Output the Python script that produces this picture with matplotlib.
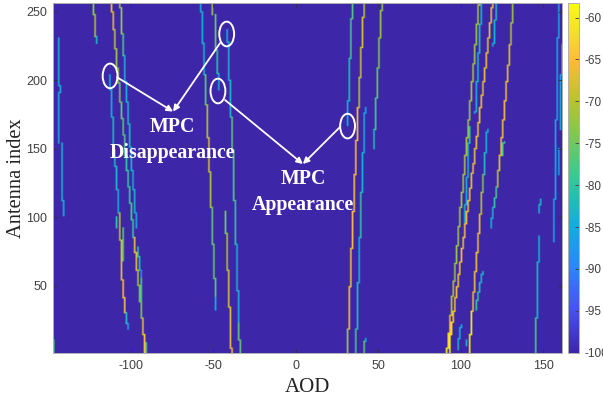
import numpy as np
import matplotlib
matplotlib.use('Agg')
import matplotlib.pyplot as plt
from matplotlib.colors import LinearSegmentedColormap
from matplotlib.patches import Ellipse

plt.rcParams['axes.unicode_minus'] = False

aod_axis = np.arange(-147, 162)
ant_axis = np.arange(1, 257)
noise_db = -100

# each path: AOD per step, antenna breakpoints (top to bottom), power per step
a_aod = [-144, -143, -144, -142, -141]
a_ant = [231, 196, 191, 154, 112, 101]
a_db = [-84, -85, -85, -84, -85]

a2_aod = [-147]
a2_ant = [10, 1]
a2_db = [-78]

b_aod = [-123, -122, -121]
b_ant = [256, 248, 232, 227]
b_db = [-73, -71, -83]

c_aod = [-112, -111, -110, -109, -108, -107, -106, -105, -104, -103, -102,
         -101, -100, -99, -98, -97, -96, -95, -94, -93, -92]
c_ant = [256, 250, 237, 223, 209, 198, 184, 172, 160, 145, 134, 122, 110, 98,
         85, 74, 61, 50, 38, 26, 14, 1]
c_db = [-66, -68, -70, -72, -74, -75, -76, -77, -78, -80, -79, -79, -78, -79,
        -66, -67, -70, -74, -74, -66, -64]

d_aod = [-113, -112, -111, -110, -109, -108, -107, -106, -105, -104, -103, -102]
d_ant = [204, 193, 173, 149, 137, 120, 103, 83, 54, 41, 30, 22, 18]
d_db = [-85, -85, -83, -83, -83, -85, -70, -68, -65, -64, -82, -86]

d2_aod = [-109, -105, -105, -107]
d2_ant = [100, 92, 68, 58]
d2_db = [-80, -76]

e_aod = [-107, -106, -105, -104, -103, -102, -101, -100, -99, -98, -97]
e_ant = [256, 253, 234, 218, 199, 184, 168, 151, 134, 120, 103, 92]
e_db = [-72, -72, -78, -84, -84, -83, -83, -84, -85, -84, -86]

e2_aod = [-96, -95, -94, -94]
e2_ant = [78, 71, 61, 55, 38]
e2_db = [-80, -82, -90, -78]

e3_aod = [-91]
e3_ant = [8, 1]
e3_db = [-78]

f_aod = [-58, -57, -56, -55, -54, -53, -52, -51, -50, -49, -49]
f_ant = [256, 250, 227, 204, 182, 158, 133, 107, 80, 55, 41, 32]
f_db = [-85, -84, -84, -76, -70, -68, -71, -76, -76, -77, -85]

g_aod = [-51, -49, -48, -47]
g_ant = [256, 248, 222, 205, 193]
g_db = [-72, -76, -80, -85]

h_aod = [-42, -41, -40, -39, -38, -37, -36, -35, -35, -34]
h_ant = [237, 228, 200, 173, 149, 112, 80, 46, 22, 10, 1]
h_db = [-85, -84, -83, -76, -77, -81, -84, -84, -76, -76]

i_aod = [-43, -42, -41, -40, -39]
i_ant = [104, 88, 61, 34, 4, 1]
i_db = [-75, -71, -68, -67, -66]

j_aod = [34, 33, 32, 31]
j_ant = [256, 245, 216, 185, 167]
j_db = [-77, -78, -82, -85]

k_aod = [41, 40, 39, 38, 37, 36, 35, 34, 33, 32, 31]
k_ant = [256, 246, 224, 202, 180, 156, 131, 104, 77, 49, 18, 1]
k_db = [-70, -68, -69, -70, -66, -65, -65, -65, -65, -65, -72]

l_aod = [52, 51, 50, 49, 48, 47]
l_ant = [256, 251, 231, 209, 187, 164, 150]
l_db = [-74, -72, -74, -76, -78, -82]

m_aod = [42, 41, 40, 39, 38, 37, 36]
m_ant = [180, 176, 147, 118, 85, 52, 18, 1]
m_db = [-86, -85, -84, -80, -84, -83, -78]

m2_aod = [42, 41]
m2_ant = [11, 9, 1]
m2_db = [-84, -76]

r_aod = [112, 111, 110, 109, 108]
r_ant = [256, 241, 220, 199, 177, 176]
r_db = [-84, -82, -83, -84, -86]

s_aod = [121, 120, 119]
s_ant = [256, 244, 227, 225]
s_db = [-82, -84, -86]

t_aod = [105, 104, 103, 102]
t_ant = [166, 154, 129, 109, 94]
t_db = [-80, -84, -85, -84]

n_aod = [111, 110, 109, 108, 107, 106, 105, 104, 103, 102, 101, 100, 99, 98,
         97, 96, 95, 94, 93, 92, 91]
n_ant = [256, 255, 241, 226, 212, 199, 185, 171, 158, 145, 131, 118, 107, 93,
         79, 66, 53, 42, 28, 15, 4, 1]
n_db = [-68, -71, -72, -72, -71, -71, -72, -72, -71, -71, -72, -72, -72, -72,
        -72, -72, -71, -70, -66, -62, -60]

o_aod = [119, 118, 117, 116, 115, 114, 113, 112, 111, 110, 109, 108, 107, 106,
         105, 104, 103, 102, 101, 100, 99, 98, 97, 96, 95, 94, 93]
o_ant = [256, 253, 242, 231, 220, 209, 199, 189, 180, 169, 159, 150, 139, 132,
         121, 112, 104, 95, 85, 77, 67, 58, 49, 41, 31, 23, 14, 1]
o_db = [-66, -66, -67, -67, -66, -66, -67, -66, -66, -66, -66, -67, -66, -66,
        -66, -66, -66, -66, -66, -66, -66, -66, -66, -65, -64, -62, -60]

p_aod = [131, 130, 129, 128, 127, 126, 125, 124, 123, 122, 121, 120, 119, 118]
p_ant = [256, 242, 226, 211, 199, 185, 171, 158, 145, 134, 122, 114, 107, 99, 92]
p_db = [-72, -70, -68, -67, -66, -66, -66, -66, -68, -70, -78, -80, -84, -84]

p2_aod = [126, 125]
p2_ant = [155, 154, 145]
p2_db = [-80, -78]

q_aod = [116, 115, 114, 113, 112, 111, 110, 109, 108, 107, 106, 105]
q_ant = [164, 162, 147, 131, 118, 102, 88, 74, 60, 45, 31, 14, 1]
q_db = [-84, -84, -82, -74, -70, -66, -66, -66, -66, -66, -60, -60]

v_aod = [113, 112, 111, 110, 109]
v_ant = [60, 58, 52, 45, 39, 32]
v_db = [-82, -84, -82, -80, -80]

w_aod = [100, 99, 98]
w_ant = [21, 19, 11, 3]
w_db = [-86, -84, -84]

w2_aod = [103]
w2_ant = [10, 6]
w2_db = [-84]

x_aod = [159, 158, 157, 156]
x_ant = [256, 231, 171, 113, 82]
x_db = [-86, -86, -86, -86]

y_aod = [161, 160, 160, 159]
y_ant = [226, 204, 163, 150, 131, 103]
y_db = [-80, -86, noise_db, -86, -86]

z_aod = [148, 147]
z_ant = [113, 109, 103]
z_db = [-84, -84]

aa_aod = [147, 146, 145]
aa_ant = [86, 67, 26, 1]
aa_db = [-84, -84, -78]

paths = [
    (a_aod, a_ant, a_db), (a2_aod, a2_ant, a2_db), (b_aod, b_ant, b_db),
    (e_aod, e_ant, e_db), (e2_aod, e2_ant, e2_db), (e3_aod, e3_ant, e3_db),
    (d_aod, d_ant, d_db), (c_aod, c_ant, c_db), (d2_aod, d2_ant, d2_db),
    (f_aod, f_ant, f_db), (g_aod, g_ant, g_db), (h_aod, h_ant, h_db),
    (i_aod, i_ant, i_db), (j_aod, j_ant, j_db), (m_aod, m_ant, m_db),
    (m2_aod, m2_ant, m2_db), (k_aod, k_ant, k_db), (l_aod, l_ant, l_db),
    (r_aod, r_ant, r_db), (s_aod, s_ant, s_db), (t_aod, t_ant, t_db),
    (v_aod, v_ant, v_db), (w_aod, w_ant, w_db), (n_aod, n_ant, n_db),
    (o_aod, o_ant, o_db), (p_aod, p_ant, p_db), (p2_aod, p2_ant, p2_db),
    (q_aod, q_ant, q_db), (w2_aod, w2_ant, w2_db), (x_aod, x_ant, x_db),
    (y_aod, y_ant, y_db), (z_aod, z_ant, z_db), (aa_aod, aa_ant, aa_db),
]

# ellipse centres (AOD, antenna), arrows (tail, head), labels
marker_centres = [(-112.7, 203), (-42, 233.6), (-47.3, 192), (31.3, 166.4)]
arrow_lines = [((-108.5, 202), (-74.5, 177)), ((-46, 227), (-74.5, 177)),
               ((-43, 185.4), (4.2, 138.7)), ((26.7, 165.7), (4.2, 138.7))]
label_texts = ['MPC\nDisappearance', 'MPC\nAppearance']
label_spots = [(-75, 156), (4.5, 118)]

x_ticks = [-100, -50, 0, 50, 100, 150]
y_ticks = [50, 100, 150, 200, 250]
cbar_ticks = [-60, -65, -70, -75, -80, -85, -90, -95, -100]
db_min, db_max = -100, -58.3

# parula-like colours
parula = LinearSegmentedColormap.from_list('parula', [
    (0.0, (0.2422, 0.1504, 0.6603)),
    (0.125, (0.2810, 0.3228, 0.9579)),
    (0.25, (0.1786, 0.5289, 0.9682)),
    (0.375, (0.0689, 0.6948, 0.8394)),
    (0.5, (0.2161, 0.7843, 0.5923)),
    (0.625, (0.50, 0.78, 0.33)),
    (0.72, (0.72, 0.76, 0.20)),
    (0.835, (0.99, 0.73, 0.22)),
    (0.92, (0.96, 0.88, 0.15)),
    (1.0, (0.98, 0.98, 0.08)),
])

power = np.full((len(ant_axis), len(aod_axis)), noise_db, dtype=float)
for aods, ants, dbs in paths:
    for aod, hi, lo, db in zip(aods, ants[:-1], ants[1:], dbs):
        power[lo - 1:hi, aod - aod_axis[0]] = db

fig = plt.figure(figsize=(6.03, 3.98), dpi=100)
W, H = 603.0, 398.0
ax = fig.add_axes([52.7 / W, 1 - 352.7 / H, 509.6 / W, 349.4 / H])
cax = fig.add_axes([567.7 / W, 1 - 352.7 / H, 11 / W, 349.4 / H])

im = ax.imshow(power, origin='lower', aspect='auto', cmap=parula,
               vmin=db_min, vmax=db_max,
               extent=[aod_axis[0] - 0.5, aod_axis[-1] + 0.5, 1, 256],
               interpolation='bilinear', interpolation_stage='rgba')

sans = 'Liberation Sans'
serif = 'Liberation Serif'
gray = '#404040'

ax.set_xticks(x_ticks)
ax.set_yticks(y_ticks)
ax.tick_params(direction='in', length=3, width=0.6, color='#303030', top=True,
               right=True, labelcolor=gray, labelsize=9, pad=4)
ax.tick_params(axis='x', pad=5.5)
for lab in ax.get_xticklabels() + ax.get_yticklabels():
    lab.set_family(sans)
for sp in ax.spines.values():
    sp.set_color('#b0b0b0')
    sp.set_linewidth(0.7)

ax.set_xlabel('AOD', family=serif, fontsize=15, color='#222222', labelpad=4)
ax.set_ylabel('Antenna index', family=serif, fontsize=14.7, color='#222222')
ax.yaxis.set_label_coords(-0.052, 0.5)

for (x, y) in marker_centres:
    ax.add_patch(Ellipse((x, y), 9, 18, fill=False, edgecolor='white', linewidth=1.4))
for tail, head in arrow_lines:
    ax.annotate('', xy=head, xytext=tail,
                arrowprops=dict(arrowstyle='-|>', color='white', lw=1.3,
                                mutation_scale=9, shrinkA=0, shrinkB=0))
for txt, (x, y) in zip(label_texts, label_spots):
    ax.text(x, y, txt, color='white', family=serif, fontweight='bold', fontsize=14.3,
            ha='center', va='center', linespacing=1.4)

cb = fig.colorbar(im, cax=cax, ticks=cbar_ticks)
cb.ax.tick_params(direction='in', length=3, width=0.6, color='#404040',
                  labelcolor=gray, labelsize=8.5, pad=4)
for lab in cb.ax.get_yticklabels():
    lab.set_family(sans)
cb.outline.set_edgecolor('#b0b0b0')
cb.outline.set_linewidth(0.7)

fig.savefig('out.png', dpi=100)
